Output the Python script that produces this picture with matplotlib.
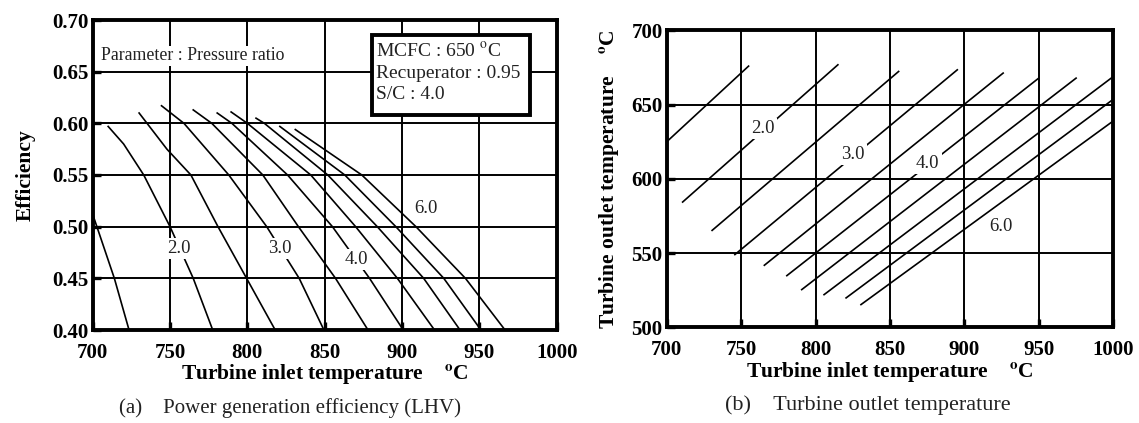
import matplotlib
matplotlib.use("Agg")
import matplotlib.pyplot as plt
from matplotlib.patches import Rectangle

plt.rcParams['font.family'] = ['Liberation Serif', 'DejaVu Serif']
plt.rcParams['mathtext.fontset'] = 'stix'

# Pressure ratios of the curve family (1.5 ... 6.0)
pressure_ratios = [1.5, 2.0, 2.5, 3.0, 3.5, 4.0, 4.5, 5.0, 5.5, 6.0]

# (a) Power generation efficiency vs turbine inlet temperature
eff_tit = [
    [700, 714, 723.5],
    [710, 720, 733, 750, 765, 777.6],
    [730, 748, 763.5, 781, 799.5, 818],
    [744.5, 759, 788, 812.5, 833.5, 849.5],
    [765, 777, 810, 833, 857, 878],
    [780.5, 790, 826, 855, 879, 900.8],
    [789.5, 800, 841, 870, 897, 921],
    [805.6, 811, 852, 884, 914, 937.5],
    [821, 863, 896, 927, 951],
    [831, 874, 909, 941, 966.6],
]
eff_val = [
    [0.512, 0.45, 0.40],
    [0.597, 0.58, 0.55, 0.50, 0.45, 0.40],
    [0.610, 0.575, 0.55, 0.50, 0.45, 0.40],
    [0.617, 0.60, 0.55, 0.50, 0.45, 0.40],
    [0.613, 0.60, 0.55, 0.50, 0.45, 0.40],
    [0.610, 0.60, 0.55, 0.50, 0.45, 0.40],
    [0.611, 0.60, 0.55, 0.50, 0.45, 0.40],
    [0.605, 0.60, 0.55, 0.50, 0.45, 0.40],
    [0.597, 0.55, 0.50, 0.45, 0.40],
    [0.594, 0.55, 0.50, 0.45, 0.40],
]
eff_labels = {2.0: (755.4, 0.479), 3.0: (821.1, 0.479), 4.0: (870.7, 0.468), 6.0: (915.5, 0.518)}

# (b) Turbine outlet temperature vs turbine inlet temperature (start, end)
tot_tit = [
    [700, 755], [710.7, 815], [730.5, 855.8], [745.8, 895.2], [765.6, 926],
    [780.7, 949.4], [790.7, 975], [805.7, 999.5], [820.5, 999.5], [830.5, 999.5],
]
tot_val = [
    [625, 676], [584.4, 676.9], [565.3, 672.4], [549, 673.5], [541.8, 671.3],
    [534.8, 667.5], [525.4, 667.9], [522, 668.6], [519.8, 653.3], [515.3, 638.7],
]
tot_labels = {2.0: (764.9, 634), 3.0: (825.3, 616.3), 4.0: (875.4, 610.7), 6.0: (924.3, 568)}

x_ticks = [700, 750, 800, 850, 900, 950, 1000]
eff_ticks = [0.40, 0.45, 0.50, 0.55, 0.60, 0.65, 0.70]
tot_ticks = [500, 550, 600, 650, 700]

W, H = 1139, 423
fig = plt.figure(figsize=(W / 100, H / 100), dpi=100)
ax1 = fig.add_axes([92.7 / W, (H - 330) / H, 464 / W, 310 / H])
ax2 = fig.add_axes([666.7 / W, (H - 327.3) / H, 446.6 / W, 296.8 / H])

TXT = '#222222'


def style(ax):
    ax.grid(True, color='black', linewidth=1.4)
    ax.set_axisbelow(True)
    for s in ax.spines.values():
        s.set_linewidth(2.8)
    ax.tick_params(direction='in', length=6, width=2.4, labelsize=15)
    ax.tick_params(axis='x', pad=9)
    ax.tick_params(axis='y', pad=3)
    for lab in ax.get_xticklabels() + ax.get_yticklabels():
        lab.set_fontweight('bold')


def label(ax, text, x, y):
    ax.text(x, y, text, fontsize=13.5, ha='center', va='center', color=TXT,
            bbox=dict(facecolor='white', edgecolor='none', pad=1.5), zorder=4)


xlab = r'Turbine inlet temperature    $^{\mathbf{o}}$C'

# Panel (a)
for xs, ys in zip(eff_tit, eff_val):
    ax1.plot(xs, ys, color='black', linewidth=1.2, zorder=3)
for pr, (lx, ly) in eff_labels.items():
    label(ax1, f'{pr:.1f}', lx, ly)
ax1.set_xlim(700, 1000)
ax1.set_ylim(0.40, 0.70)
ax1.set_xticks(x_ticks)
ax1.set_xticklabels([str(t) for t in x_ticks])
ax1.set_yticks(eff_ticks)
ax1.set_yticklabels([f'{t:.2f}' for t in eff_ticks])
style(ax1)
ax1.set_xlabel(xlab, fontsize=15.5, fontweight='bold', labelpad=0)
ax1.set_ylabel('Efficiency', fontsize=15.5, fontweight='bold', labelpad=12)
ax1.text(0.017, 0.885, 'Parameter : Pressure ratio', transform=ax1.transAxes,
         fontsize=12.8, ha='left', va='center', color=TXT,
         bbox=dict(facecolor='white', edgecolor='none', pad=1), zorder=4)

# Conditions box
bx0, bx1 = (372 - 92.7) / 464, (530 - 92.7) / 464
by0, by1 = (330 - 115) / 310, (330 - 35) / 310
ax1.add_patch(Rectangle((bx0, by0), bx1 - bx0, by1 - by0, transform=ax1.transAxes,
                        facecolor='white', edgecolor='black', linewidth=2.8, zorder=5))
ax1.text(bx0 + 0.008, by1 - 0.022,
         'MCFC : 650 $^{\\mathrm{o}}$C\nRecuperator : 0.95\nS/C : 4.0',
         transform=ax1.transAxes, fontsize=14, ha='left', va='top',
         linespacing=1.3, color=TXT, zorder=6)

# Panel (b)
for xs, ys in zip(tot_tit, tot_val):
    ax2.plot(xs, ys, color='black', linewidth=1.2, zorder=3)
for pr, (lx, ly) in tot_labels.items():
    label(ax2, f'{pr:.1f}', lx, ly)
ax2.set_xlim(700, 1000)
ax2.set_ylim(500, 700)
ax2.set_xticks(x_ticks)
ax2.set_xticklabels([str(t) for t in x_ticks])
ax2.set_yticks(tot_ticks)
ax2.set_yticklabels([str(t) for t in tot_ticks])
style(ax2)
ax2.set_xlabel(xlab, fontsize=15.5, fontweight='bold', labelpad=0)
ax2.set_ylabel(r'Turbine outlet temperature    $^{\mathbf{o}}$C', fontsize=15.5,
               fontweight='bold', labelpad=7)

# Panel captions
fig.text(290 / W, 1 - 408 / H, '(a)    Power generation efficiency (LHV)',
         fontsize=15, ha='center', va='center', color=TXT)
fig.text(868 / W, 1 - 405 / H, '(b)    Turbine outlet temperature',
         fontsize=16, ha='center', va='center', color=TXT)

fig.savefig('out.png', dpi=100, facecolor='white')
